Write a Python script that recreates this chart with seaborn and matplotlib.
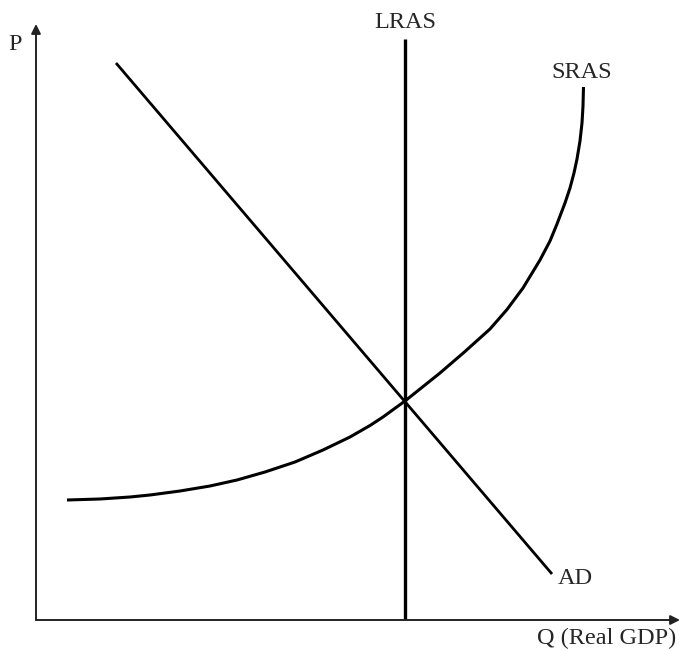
import pandas as pd
import seaborn as sns
import matplotlib.pyplot as plt

# Data (arbitrary units, origin at the axes corner)
sras_q = [31, 64, 94, 114, 144, 174, 201, 229, 259, 287, 314, 334, 347, 369, 384, 404,
          429, 454, 471, 487, 504, 514, 521, 529, 534, 538, 541, 544, 546, 547, 547.5]
sras_p = [120, 121, 123, 125, 129, 134, 140, 148, 158, 170, 183, 194.5, 203, 219, 231, 247,
          268.5, 291, 310.5, 332, 360, 379, 396, 417, 432, 447, 461, 479, 497, 514, 533]
ad_q = [80, 516]
ad_p = [557, 46]
lras_q = [369, 369]
lras_p = [0, 581]

sras = pd.DataFrame({"Q": sras_q, "P": sras_p})
ad = pd.DataFrame({"Q": ad_q, "P": ad_p})
lras = pd.DataFrame({"Q": lras_q, "P": lras_p})

sns.set_style("white")
plt.rcParams['font.family'] = ['Liberation Serif', 'DejaVu Serif']

fig = plt.figure(figsize=(6.81, 6.51), dpi=100)
ax = fig.add_axes([36 / 681, 31 / 651, 645 / 681, 620 / 651])
ax.set_xlim(0, 645)
ax.set_ylim(0, 620)

line_kw = dict(sort=False, estimator=None, color="black", ax=ax,
               solid_joinstyle="round", solid_capstyle="butt")
sns.lineplot(data=sras, x="Q", y="P", linewidth=2.2, **line_kw)
sns.lineplot(data=ad, x="Q", y="P", linewidth=2.0, **line_kw)
sns.lineplot(data=lras, x="Q", y="P", linewidth=2.4, **line_kw)

# axes drawn as arrows
arrow = dict(arrowstyle="-|>", color="#222222", lw=1.4, mutation_scale=14, shrinkA=0, shrinkB=0)
ax.annotate("", xy=(0, 596), xytext=(0, 0), arrowprops=arrow, annotation_clip=False)
ax.annotate("", xy=(644, 0), xytext=(0, 0), arrowprops=arrow, annotation_clip=False)

fs = 17.5
ax.text(369, 598, "LRAS", fontsize=fs, ha="center", va="center")
ax.text(546, 547, "SRAS", fontsize=fs, ha="center", va="center")
ax.text(539, 41, "AD", fontsize=fs, ha="center", va="center")
ax.text(-21, 575, "P", fontsize=fs, ha="center", va="center", clip_on=False)
ax.text(571, -18, "Q (Real GDP)", fontsize=fs, ha="center", va="center", clip_on=False)

ax.set_xlabel("")
ax.set_ylabel("")
ax.set_xticks([])
ax.set_yticks([])
sns.despine(ax=ax, left=True, bottom=True)

fig.savefig("out.png", dpi=100)
